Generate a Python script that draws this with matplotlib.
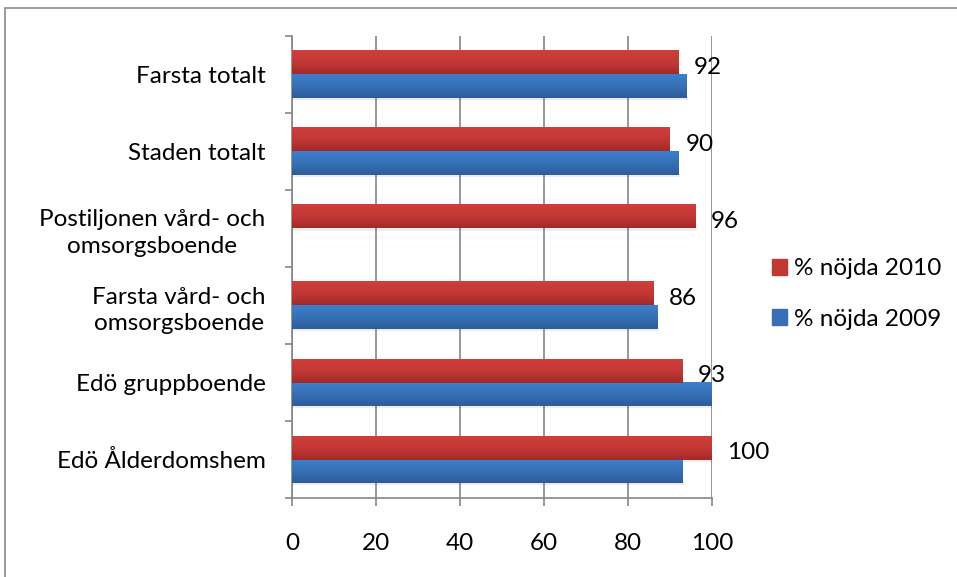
import numpy as np
import matplotlib.pyplot as plt
from matplotlib.colors import LinearSegmentedColormap
from matplotlib.patches import Rectangle

# data (bottom to top)
categories = ["Edö Ålderdomshem", "Edö gruppboende", "Farsta vård- och\nomsorgsboende",
              "Postiljonen vård- och\nomsorgsboende", "Staden totalt", "Farsta totalt"]
nojda_2010 = [100, 93, 86, 96, 90, 92]
nojda_2009 = [93, 100, 87, np.nan, 92, 94]
x_ticks = [0, 20, 40, 60, 80, 100]

plt.rcParams['font.family'] = ['Lato', 'DejaVu Sans']
fs = 17.5

red_cmap = LinearSegmentedColormap.from_list("r", ["#D03E3B", "#C23835", "#A22A28"])
blue_cmap = LinearSegmentedColormap.from_list("b", ["#3D7FCC", "#3670B6", "#2D5C9A"])
grad = np.linspace(0, 1, 64).reshape(-1, 1)

fig = plt.figure(figsize=(9.57, 5.77), dpi=100)
axs = fig.add_axes([292/957, 1-498/577, 420/957, 462/577])

y = np.arange(len(categories))
h = 0.3


def grad_bars(vals, offs, cmap):
    for yi, v in zip(y, vals):
        if np.isnan(v):
            continue
        y0 = yi + offs - h/2
        # soft shadow under the bar
        axs.add_patch(Rectangle((0, y0 - 0.035), v + 0.4, 0.05, color="#000000", alpha=0.07, lw=0, zorder=2))
        axs.imshow(grad, extent=[0, v, y0, y0 + h], aspect="auto", cmap=cmap,
                   origin="upper", zorder=3, interpolation="bilinear")


grad_bars(nojda_2009, -h/2, blue_cmap)
grad_bars(nojda_2010, h/2, red_cmap)

for yi, v in zip(y, nojda_2010):
    axs.annotate(f"{v:.0f}", (v, yi + h/2), xytext=(11, -3), textcoords="offset points",
                 ha="left", va="center", fontsize=fs)

axs.set_xlim(0, 100)
axs.set_ylim(-0.5, len(categories) - 0.5)
axs.set_xticks(x_ticks)
axs.set_yticks(y)
axs.set_yticklabels(categories, multialignment="center", linespacing=1.35)
axs.set_yticks(np.arange(-0.5, len(categories)), minor=True)

axs.grid(axis="x", color="#868686", lw=1.2, zorder=1)
axs.set_axisbelow(True)
for s in ["top", "right"]:
    axs.spines[s].set_visible(False)
for s in ["left", "bottom"]:
    axs.spines[s].set_color("#868686")
    axs.spines[s].set_linewidth(1.2)

axs.tick_params(axis="y", which="major", length=0, pad=19, labelsize=fs)
axs.tick_params(axis="y", which="minor", length=5, width=1.2, color="#868686")
axs.tick_params(axis="x", which="major", length=6, width=1.2, color="#868686", pad=19, labelsize=fs)

handles = [Rectangle((0, 0), 1, 1, color="#C23835"), Rectangle((0, 0), 1, 1, color="#3670B6")]
fig.legend(handles, ["% nöjda 2010", "% nöjda 2009"], loc="center left",
           bbox_to_anchor=(772/957, 1-294/577), frameon=False, fontsize=fs,
           handlelength=0.6, handleheight=0.6, handletextpad=0.3, labelspacing=1.2,
           borderpad=0, borderaxespad=0)

# outer chart frame
fig.patches.append(Rectangle((5/957, -0.1), 1.1, 1.1 - 8/577, transform=fig.transFigure,
                             fill=False, ec="#8A8A8A", lw=1.2))

plt.savefig("out.png", dpi=100)
